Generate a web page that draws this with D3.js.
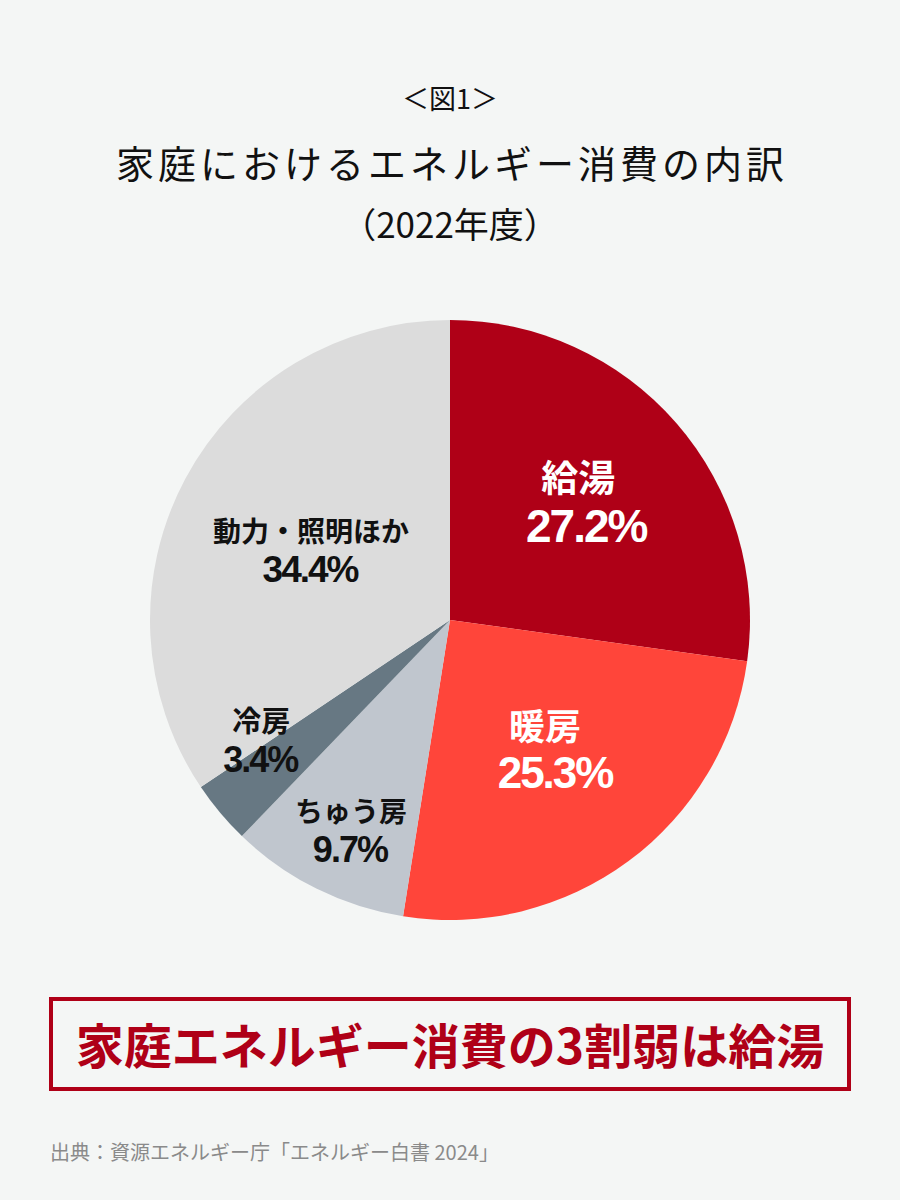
<!DOCTYPE html>
<html>
<head>
<meta charset="utf-8">
<script src="https://cdn.jsdelivr.net/npm/d3@7"></script>
<style>
  body { margin: 0; background: #f4f6f5; }
  svg { display: block; }
  .jp { font-family: "Noto Sans CJK JP", "Noto Sans", sans-serif; }
  .num { font-family: "Liberation Sans", Arial, sans-serif; font-weight: 700; letter-spacing: -2px; }
</style>
</head>
<body>
<div id="chart"></div>
<script>
// data
var categories = ["給湯", "暖房", "ちゅう房", "冷房", "動力・照明ほか"];
var shares = [27.2, 25.3, 9.7, 3.4, 34.4];
var colors = ["#af0017", "#ff453a", "#c0c6ce", "#677883", "#dcdcdc"];
var textColors = ["#fff", "#fff", "#111", "#111", "#111"];

var width = 900, height = 1200;
var cx = 450, cy = 620, radius = 300;

var svg = d3.select("#chart").append("svg")
    .attr("width", width)
    .attr("height", height);

svg.append("rect")
    .attr("width", width)
    .attr("height", height)
    .attr("fill", "#f4f6f5");

// titles
svg.append("text").attr("class", "jp")
    .attr("x", cx).attr("y", 109)
    .attr("text-anchor", "middle")
    .attr("font-size", 27)
    .attr("fill", "#111")
    .text("＜図1＞");

svg.append("text").attr("class", "jp")
    .attr("x", cx + 2).attr("y", 178)
    .attr("text-anchor", "middle")
    .attr("font-size", 38)
    .attr("letter-spacing", "4px")
    .attr("fill", "#111")
    .text("家庭におけるエネルギー消費の内訳");

svg.append("text").attr("class", "jp")
    .attr("x", cx).attr("y", 238)
    .attr("text-anchor", "middle")
    .attr("font-size", 35)
    .attr("fill", "#111")
    .text("（2022年度）");

// pie
var pie = d3.pie().sort(null).value(d => d);
var arcs = pie(shares);
var arc = d3.arc().innerRadius(0).outerRadius(radius);

var g = svg.append("g").attr("transform", "translate(" + cx + "," + cy + ")");

g.selectAll("path")
    .data(arcs)
    .enter()
    .append("path")
    .attr("d", arc)
    .attr("fill", (d, i) => colors[i]);

// label placement: anchor = percent baseline, given as radius / angle shift (deg)
var labelR = [157, 198, 262, 243, 145];
var labelShift = [11.2, 4.5, -4, 1.3, -12.9];
var nameDx = [-8, -10, 1, 1, 1];
var lineGap = [50, 48, 40, 40, 40];
var nameSize = [37, 36, 28, 29, 28];
var pctSize = [46, 44, 36, 36, 37];

var labels = g.selectAll("g.label")
    .data(arcs)
    .enter()
    .append("g")
    .attr("class", "label")
    .attr("transform", function(d, i) {
        var a = (d.startAngle + d.endAngle) / 2 + labelShift[i] * Math.PI / 180;
        return "translate(" + (Math.sin(a) * labelR[i]) + "," + (-Math.cos(a) * labelR[i]) + ")";
    });

labels.append("text").attr("class", "jp")
    .attr("text-anchor", "middle")
    .attr("x", (d, i) => nameDx[i])
    .attr("y", (d, i) => -lineGap[i])
    .attr("font-size", (d, i) => nameSize[i])
    .attr("font-weight", 700)
    .attr("fill", (d, i) => textColors[i])
    .text((d, i) => categories[i]);

labels.append("text").attr("class", "num")
    .attr("text-anchor", "middle")
    .attr("y", 0)
    .attr("font-size", (d, i) => pctSize[i])
    .attr("fill", (d, i) => textColors[i])
    .text(d => d.data.toFixed(1) + "%");

// summary box
svg.append("rect")
    .attr("x", 51).attr("y", 999)
    .attr("width", 798).attr("height", 90)
    .attr("fill", "none")
    .attr("stroke", "#af0017")
    .attr("stroke-width", 4);

svg.append("text").attr("class", "jp")
    .attr("x", cx).attr("y", 1064)
    .attr("text-anchor", "middle")
    .attr("font-size", 48)
    .attr("font-weight", 700)
    .attr("fill", "#af0017")
    .text("家庭エネルギー消費の3割弱は給湯");

// source
svg.append("text").attr("class", "jp")
    .attr("x", 50).attr("y", 1160)
    .attr("font-size", 20)
    .attr("fill", "#8a8a8a")
    .text("出典：資源エネルギー庁「エネルギー白書 2024」");
</script>
</body>
</html>
